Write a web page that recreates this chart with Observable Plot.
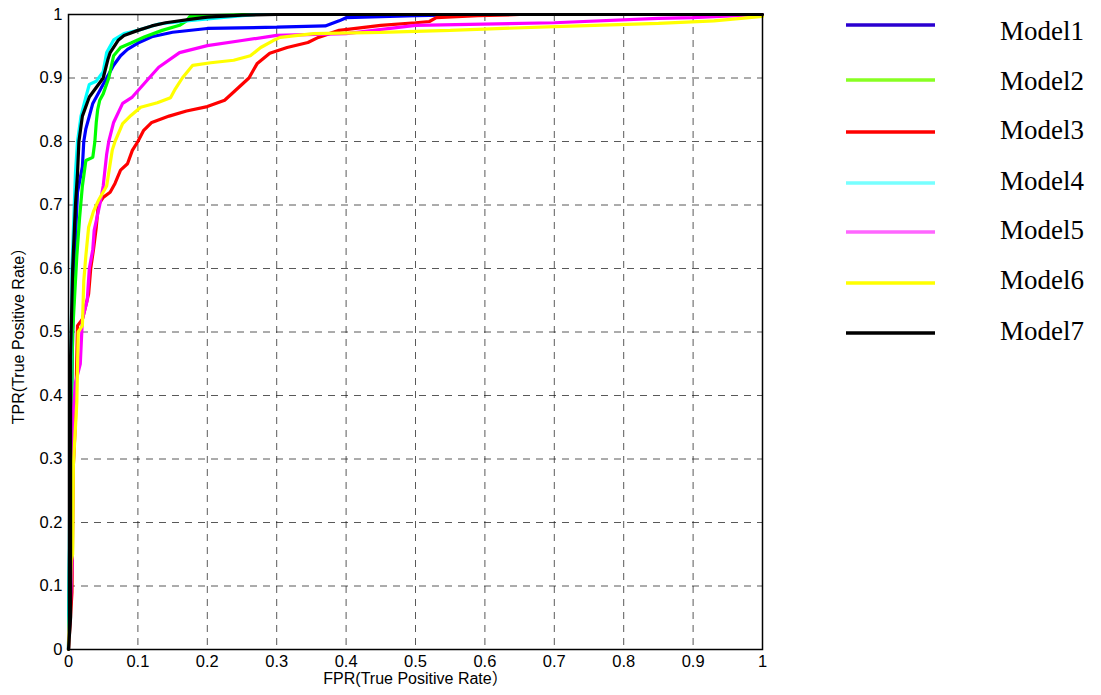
<!DOCTYPE html>
<html>
<head>
<meta charset="utf-8">
<script src="https://cdn.jsdelivr.net/npm/d3@7"></script>
<script src="https://cdn.jsdelivr.net/npm/@observablehq/plot@0.6"></script>
<style>
  html, body { margin: 0; padding: 0; background: #fff; }
  #wrap { position: relative; width: 1101px; height: 695px; overflow: hidden; }
  #chart { position: absolute; left: 0; top: 0; }
  #legend { position: absolute; left: 0; top: 0; }
</style>
</head>
<body>
<div id="wrap"><div id="chart"></div><svg id="legend" width="1101" height="695"></svg></div>
<script>
// ---- data ----
const modelNames = ["Model1", "Model2", "Model3", "Model4", "Model5", "Model6", "Model7"];
const modelColors = ["#0000ff", "#00ff00", "#ff0000", "#00ffff", "#ff00ff", "#ffff00", "#000000"];
const legendColors = ["#2a00d0", "#88ff22", "#ff0000", "#77ffff", "#ff66ff", "#ffff00", "#000000"];
const tickValues = [0, 0.1, 0.2, 0.3, 0.4, 0.5, 0.6, 0.7, 0.8, 0.9, 1];
const xLabel = "FPR(True Positive Rate）";
const yLabel = "TPR(True Positive Rate）";

// [FPR, TPR]
const model1 = [[0,0],[0.003,0.3],[0.006,0.5],[0.01,0.65],[0.013,0.72],[0.02,0.76],[0.022,0.8],[0.025,0.82],[0.03,0.84],[0.035,0.86],[0.045,0.88],[0.05,0.89],[0.055,0.9],[0.065,0.92],[0.075,0.935],[0.085,0.945],[0.1,0.955],[0.12,0.965],[0.15,0.972],[0.2,0.978],[0.3,0.98],[0.37,0.982],[0.39,0.99],[0.4,0.995],[0.5,0.998],[0.6,1],[1,1]];
const model2 = [[0,0],[0.003,0.3],[0.006,0.5],[0.012,0.62],[0.016,0.68],[0.02,0.73],[0.025,0.77],[0.035,0.775],[0.038,0.8],[0.04,0.83],[0.042,0.85],[0.045,0.865],[0.05,0.875],[0.058,0.9],[0.065,0.935],[0.075,0.948],[0.09,0.955],[0.11,0.965],[0.135,0.975],[0.16,0.983],[0.17,0.99],[0.175,0.997],[0.25,1],[1,1]];
const model3 = [[0,0],[0.005,0.09],[0.007,0.29],[0.01,0.36],[0.013,0.51],[0.02,0.52],[0.029,0.56],[0.032,0.6],[0.036,0.63],[0.04,0.665],[0.043,0.7],[0.05,0.712],[0.06,0.72],[0.067,0.734],[0.075,0.755],[0.085,0.765],[0.092,0.786],[0.1,0.8],[0.108,0.817],[0.12,0.83],[0.145,0.84],[0.17,0.848],[0.2,0.855],[0.225,0.865],[0.24,0.88],[0.26,0.9],[0.272,0.923],[0.29,0.939],[0.315,0.948],[0.345,0.956],[0.36,0.964],[0.39,0.975],[0.45,0.983],[0.5,0.987],[0.52,0.989],[0.53,0.995],[0.59,0.998],[0.65,1],[1,1]];
const model4 = [[0,0],[0.003,0.4],[0.005,0.6],[0.01,0.75],[0.013,0.8],[0.018,0.84],[0.025,0.87],[0.03,0.89],[0.04,0.895],[0.05,0.91],[0.055,0.94],[0.065,0.96],[0.08,0.97],[0.1,0.975],[0.13,0.985],[0.17,0.99],[0.22,0.995],[0.27,1],[1,1]];
const model5 = [[0,0],[0.005,0.13],[0.006,0.36],[0.01,0.42],[0.017,0.45],[0.02,0.52],[0.027,0.55],[0.03,0.6],[0.035,0.63],[0.037,0.66],[0.045,0.7],[0.05,0.73],[0.055,0.78],[0.058,0.8],[0.065,0.83],[0.078,0.86],[0.092,0.87],[0.113,0.896],[0.13,0.917],[0.16,0.94],[0.2,0.951],[0.25,0.959],[0.3,0.967],[0.4,0.97],[0.5,0.983],[0.7,0.987],[0.85,0.994],[0.9,0.995],[1,1]];
const model6 = [[0,0],[0.004,0.14],[0.006,0.15],[0.007,0.29],[0.012,0.39],[0.014,0.5],[0.02,0.51],[0.022,0.58],[0.025,0.62],[0.029,0.665],[0.036,0.69],[0.043,0.707],[0.055,0.73],[0.063,0.786],[0.067,0.8],[0.078,0.828],[0.09,0.841],[0.104,0.854],[0.128,0.861],[0.147,0.869],[0.154,0.883],[0.164,0.9],[0.179,0.92],[0.205,0.924],[0.238,0.928],[0.262,0.935],[0.277,0.948],[0.295,0.959],[0.305,0.964],[0.353,0.97],[0.45,0.972],[0.55,0.975],[0.7,0.981],[0.85,0.986],[0.93,0.99],[1,0.997]];
const model7 = [[0,0],[0.003,0.05],[0.003,0.46],[0.006,0.6],[0.01,0.7],[0.013,0.75],[0.015,0.8],[0.02,0.84],[0.03,0.87],[0.04,0.885],[0.05,0.9],[0.057,0.93],[0.06,0.94],[0.072,0.96],[0.08,0.967],[0.1,0.975],[0.12,0.982],[0.14,0.987],[0.18,0.993],[0.2,0.996],[0.25,0.999],[0.3,1],[1,1]];

const series = [model1, model2, model3, model4, model5, model6, model7];
const rows = series.flatMap((pts, i) => pts.map(([x, y]) => ({model: modelNames[i], x, y})));

// ---- chart ----
const sans = "'Liberation Sans', Arial, Helvetica, 'Noto Sans CJK SC', sans-serif";
const fmt = d => String(d);

const chart = Plot.plot({
  width: 780,
  height: 695,
  marginLeft: 68,
  marginRight: 18,
  marginTop: 14,
  marginBottom: 46,
  style: {fontFamily: sans, fontSize: "16px", background: "white", color: "black", overflow: "visible"},
  x: {domain: [0, 1], ticks: tickValues, tickFormat: fmt, label: null},
  y: {domain: [0, 1], ticks: tickValues, tickFormat: fmt, label: null},
  color: {domain: modelNames, range: modelColors},
  marks: [
    Plot.gridX(tickValues, {stroke: "#222", strokeOpacity: 0.75, strokeDasharray: "7,6", strokeWidth: 1}),
    Plot.gridY(tickValues, {stroke: "#222", strokeOpacity: 0.75, strokeDasharray: "7,6", strokeWidth: 1}),
    Plot.line(rows, {x: "x", y: "y", z: "model", stroke: "model", strokeWidth: 3.2, strokeLinejoin: "miter"}),
    Plot.frame({stroke: "black", strokeWidth: 1.5}),
    Plot.axisX(tickValues, {anchor: "bottom", tickSize: 0, tickPadding: 6, tickFormat: fmt, fontSize: 16.5, label: null}),
    Plot.axisY(tickValues, {anchor: "left", tickSize: 0, tickPadding: 6, tickFormat: fmt, fontSize: 16.5, label: null}),
    Plot.text([xLabel], {frameAnchor: "bottom", textAnchor: "middle", dy: 34, text: d => d, fontSize: 16, fill: "black"}),
    Plot.text([yLabel], {frameAnchor: "left", textAnchor: "middle", dx: -50, rotate: -90, text: d => d, fontSize: 16, fill: "black"})
  ]
});
document.getElementById("chart").appendChild(chart);

// ---- legend ----
const legendLineY = [25, 80, 132, 183, 232, 283, 333];
const legendTextY = [40, 90, 139, 190, 239, 289, 340];
const legend = d3.select("#legend");
modelNames.forEach((name, i) => {
  legend.append("line")
    .attr("x1", 846).attr("x2", 935)
    .attr("y1", legendLineY[i]).attr("y2", legendLineY[i])
    .attr("stroke", legendColors[i]).attr("stroke-width", 3.5);
  legend.append("text")
    .attr("x", 1000).attr("y", legendTextY[i])
    .attr("font-family", "'Liberation Serif', 'Times New Roman', serif")
    .attr("font-size", 27)
    .attr("fill", "black")
    .text(name);
});
</script>
</body>
</html>
